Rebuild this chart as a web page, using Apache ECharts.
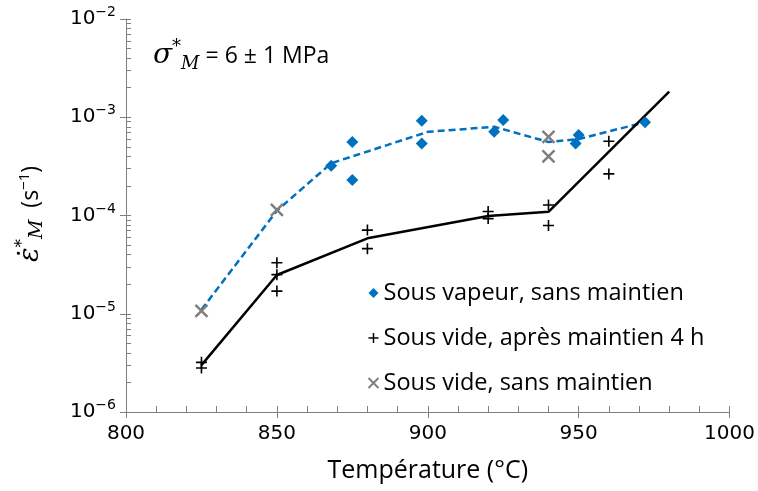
<!DOCTYPE html>
<html>
<head>
<meta charset="utf-8">
<script src="https://cdn.jsdelivr.net/npm/echarts@6/dist/echarts.min.js"></script>
<style>
  html, body { margin: 0; padding: 0; background: #fff; }
  #chart { width: 758px; height: 491px; }
</style>
</head>
<body>
<div id="chart"></div>
<script>
// axes
var xTicks = [800, 850, 900, 950, 1000];
var yTicks = [1e-6, 1e-5, 1e-4, 1e-3, 1e-2];

// Sous vapeur, sans maintien (losanges bleus)
var vapX = [868, 875, 875, 898, 898, 922, 925, 949, 950, 972];
var vapY = [3.2e-4, 5.6e-4, 2.3e-4, 9.2e-4, 5.4e-4, 7.1e-4, 9.4e-4, 5.4e-4, 6.6e-4, 8.9e-4];

// Sous vide, apres maintien 4 h (croix +)
var apresX = [825, 825, 850, 850, 850, 880, 880, 920, 920, 940, 940, 960, 960];
var apresY = [3.2e-6, 2.8e-6, 3.3e-5, 2.5e-5, 1.7e-5, 7.1e-5, 4.6e-5, 1.1e-4, 9.3e-5, 1.28e-4, 7.9e-5, 5.7e-4, 2.65e-4];

// Sous vide, sans maintien (x gris)
var sansX = [825, 850, 940, 940];
var sansY = [1.07e-5, 1.14e-4, 6.3e-4, 4.0e-4];

// courbes de tendance
var vapLineX = [825, 850, 868, 900, 922, 940, 950, 972];
var vapLineY = [1.1e-5, 1.12e-4, 3.4e-4, 7.1e-4, 8.0e-4, 5.6e-4, 6.0e-4, 8.9e-4];
var apresLineX = [825, 850, 880, 920, 940, 980];
var apresLineY = [3.0e-6, 2.48e-5, 5.86e-5, 9.9e-5, 1.09e-4, 1.82e-3];

var legendNames = ['Sous vapeur, sans maintien', 'Sous vide, après maintien 4 h', 'Sous vide, sans maintien'];

function pairs(xs, ys) {
    var out = [];
    for (var i = 0; i < xs.length; i++) out.push([xs[i], ys[i]]);
    return out;
}

// petites graduations log (2..9 dans chaque decade)
var minorVals = [];
for (var d = 0; d < yTicks.length - 1; d++) {
    for (var k = 1; k <= 9; k++) minorVals.push(yTicks[d] * k);
}
minorVals.push(1e-2);

var plusPath = 'path://M0,5L10,5M5,0L5,10';
var crossPath = 'path://M0,0L10,10M10,0L0,10';
var labelFont = 'DejaVu Sans';
var textFont = 'Open Sans';

var chart = echarts.init(document.getElementById('chart'));

chart.setOption({
    animation: false,
    backgroundColor: '#fff',
    grid: { left: 126, right: 25, top: 19, bottom: 79 },
    xAxis: [{
        type: 'value', min: xTicks[0], max: xTicks[xTicks.length - 1], interval: 50,
        axisLine: { lineStyle: { color: '#7f7f7f', width: 1 } },
        axisTick: { inside: false, length: 6, lineStyle: { color: '#7f7f7f' } },
        axisLabel: { color: '#000', fontFamily: labelFont, fontSize: 20, margin: 12,
            formatter: function (v) { return String(v); } },
        splitLine: { show: false },
        name: 'Température (°C)', nameLocation: 'middle', nameGap: 46,
        nameTextStyle: { color: '#000', fontFamily: textFont, fontSize: 25 }
    }, {
        type: 'value', min: xTicks[0], max: xTicks[xTicks.length - 1], interval: 50,
        position: 'bottom',
        axisLine: { show: false },
        axisTick: { inside: true, length: 6, lineStyle: { color: '#7f7f7f' } },
        minorTick: { show: true, splitNumber: 5, length: 6, lineStyle: { color: '#7f7f7f' } },
        axisLabel: { show: false },
        splitLine: { show: false }
    }],
    yAxis: [{
        type: 'log', logBase: 10, min: yTicks[0], max: yTicks[yTicks.length - 1],
        axisLine: { show: true, lineStyle: { color: '#7f7f7f', width: 1 } },
        axisTick: { show: true, inside: false, length: 6, lineStyle: { color: '#7f7f7f' } },
        axisLabel: {
            color: '#000', fontFamily: labelFont, fontSize: 20, margin: 10,
            formatter: function (v) {
                var e = Math.round(Math.log10(v));
                return '10{s|−' + (-e) + '}';
            },
            rich: { s: { fontFamily: labelFont, fontSize: 14, color: '#000', padding: [0, 0, 13, 0] } }
        },
        splitLine: { show: false }
    }, {
        type: 'log', logBase: 10, min: yTicks[0], max: yTicks[yTicks.length - 1],
        position: 'left',
        axisLine: { show: false },
        axisTick: { show: true, inside: true, length: 5, customValues: minorVals, lineStyle: { color: '#7f7f7f' } },
        axisLabel: { show: false },
        splitLine: { show: false }
    }],
    legend: {
        orient: 'vertical', left: 361, top: 276,
        itemWidth: 10, itemHeight: 10, itemGap: 21,
        textStyle: { color: '#000', fontFamily: textFont, fontSize: 23.5 },
        data: [
            { name: legendNames[0], icon: 'diamond', itemStyle: { color: '#0070c0' } },
            { name: legendNames[1], icon: plusPath, itemStyle: { color: 'none', borderColor: '#000', borderWidth: 1.5 } },
            { name: legendNames[2], icon: crossPath, itemStyle: { color: 'none', borderColor: '#7f7f7f', borderWidth: 2 } }
        ]
    },
    graphic: [{
        type: 'text', left: 153, top: 38,
        style: {
            text: '{g|σ}{sup|*}{sub|M}{t| = 6 ± 1 MPa}',
            rich: {
                g: { fontFamily: 'DejaVu Serif', fontStyle: 'italic', fontSize: 28, fill: '#000' },
                sup: { fontFamily: 'DejaVu Serif', fontSize: 18, fill: '#000', padding: [0, 0, 18, 0] },
                sub: { fontFamily: 'DejaVu Serif', fontStyle: 'italic', fontSize: 18, fill: '#000', padding: [16, 0, 0, 0] },
                t: { fontFamily: textFont, fontSize: 23, fill: '#000' }
            }
        }
    }, {
        type: 'text', x: 31, y: 214, rotation: Math.PI / 2,
        style: {
            text: '{e|ε̇}{sup|*}{sub|M}{t|  (s}{sup2|−1}{t|)}',
            align: 'center', verticalAlign: 'middle',
            rich: {
                e: { fontFamily: 'DejaVu Serif', fontStyle: 'italic', fontSize: 27, fill: '#000' },
                sup: { fontFamily: 'DejaVu Serif', fontSize: 17, fill: '#000', padding: [0, 0, 16, 0] },
                sub: { fontFamily: 'DejaVu Serif', fontStyle: 'italic', fontSize: 19, fill: '#000', padding: [12, 0, 0, 0] },
                t: { fontFamily: textFont, fontSize: 23, fill: '#000' },
                sup2: { fontFamily: textFont, fontSize: 15, fill: '#000', padding: [0, 0, 13, 0] }
            }
        }
    }],
    series: [{
        name: 'tendance vapeur', type: 'line', data: pairs(vapLineX, vapLineY),
        showSymbol: false, silent: true, z: 2,
        lineStyle: { color: '#0070c0', width: 2.5, type: [7, 4] }
    }, {
        name: 'tendance vide', type: 'line', data: pairs(apresLineX, apresLineY),
        showSymbol: false, silent: true, z: 2,
        lineStyle: { color: '#000', width: 2.5 }
    }, {
        name: legendNames[0], type: 'scatter', data: pairs(vapX, vapY), z: 3,
        symbol: 'diamond', symbolSize: 12,
        itemStyle: { color: '#0070c0', opacity: 1 }
    }, {
        name: legendNames[1], type: 'scatter', data: pairs(apresX, apresY), z: 3,
        symbol: plusPath, symbolSize: 11,
        itemStyle: { color: 'none', borderColor: '#000', borderWidth: 1.6, opacity: 1 }
    }, {
        name: legendNames[2], type: 'scatter', data: pairs(sansX, sansY), z: 3,
        symbol: crossPath, symbolSize: 12,
        itemStyle: { color: 'none', borderColor: '#7f7f7f', borderWidth: 2.5, opacity: 1 }
    }]
});
</script>
</body>
</html>
